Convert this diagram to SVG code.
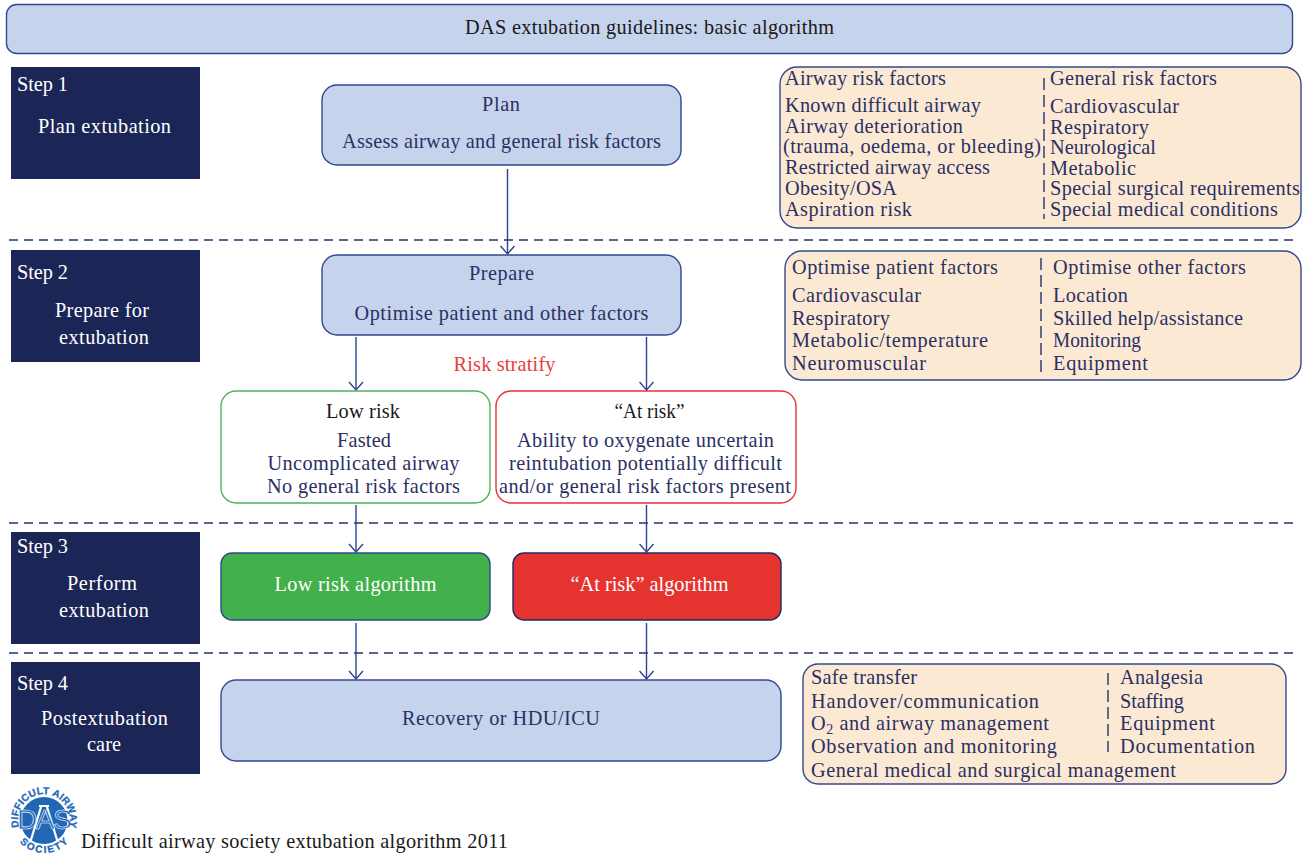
<svg xmlns="http://www.w3.org/2000/svg" width="1309" height="853" viewBox="0 0 1309 853">
<style>
text{font-family:"Liberation Serif","Times New Roman",serif;font-size:20.300px;fill:#2b3064}
.w{fill:#fff}.k{fill:#1a1a1a}.m{text-anchor:middle}
.step{fill:#1b2556}
.blue{fill:#c6d3ec;stroke:#33488f;stroke-width:1.4}
.tan{fill:#fbe9d3;stroke:#33488f;stroke-width:1.4}
.cn{fill:none;stroke:#2f4190;stroke-width:1.4}
.sep{fill:none;stroke:#24316f;stroke-width:1.4;stroke-dasharray:9 6}
.dv{fill:none;stroke:#24316f;stroke-width:1.4;stroke-dasharray:12 5}
.lg{font-family:"Liberation Sans",sans-serif;font-size:10px;font-weight:700;fill:#2267b5;stroke:#2267b5;stroke-width:.3}
</style>
<defs><marker id="a" markerUnits="userSpaceOnUse" markerWidth="12" markerHeight="16" refX="9" refY="8" orient="auto"><path d="M1 1L9 8L1 15" fill="none" stroke="#2f4190" stroke-width="1.4"/></marker></defs>
<rect width="1309" height="853" fill="#fff"/>
<g id="title"><rect class="blue" x="6.500" y="4.500" width="1286" height="49" rx="10"/><text class="k" x="465" y="34" textLength="369">DAS extubation guidelines: basic algorithm</text></g>
<g id="separators"><path class="sep" d="M9 240H1296M9 523H1296M9 653H1296"/></g>
<g id="connectors">
<path class="cn" marker-end="url(#a)" d="M507.500 169V254"/>
<path class="cn" marker-end="url(#a)" d="M356 337V390"/>
<path class="cn" marker-end="url(#a)" d="M646.500 337V390"/>
<path class="cn" marker-end="url(#a)" d="M356 505V552"/>
<path class="cn" marker-end="url(#a)" d="M646.500 505V552"/>
<path class="cn" marker-end="url(#a)" d="M356 623V679"/>
<path class="cn" marker-end="url(#a)" d="M646.500 623V679"/>
</g>
<g id="step1"><rect class="step" x="11" y="67" width="189" height="112"/><text class="w" x="17" y="91" textLength="51">Step 1</text><text class="w" x="38" y="133" textLength="133">Plan extubation</text></g>
<g id="step2"><rect class="step" x="11" y="250" width="189" height="112"/><text class="w" x="17" y="279" textLength="51">Step 2</text><text class="w m" x="102" y="317" textLength="94">Prepare for</text><text class="w m" x="104" y="344" textLength="90">extubation</text></g>
<g id="step3"><rect class="step" x="11" y="532" width="189" height="112"/><text class="w" x="17" y="553" textLength="51">Step 3</text><text class="w m" x="102" y="590" textLength="70">Perform</text><text class="w m" x="104" y="617" textLength="90">extubation</text></g>
<g id="step4"><rect class="step" x="11" y="662" width="189" height="112"/><text class="w" x="17" y="690" textLength="51">Step 4</text><text class="w m" x="104.500" y="725" textLength="127">Postextubation</text><text class="w m" x="104" y="751" textLength="34">care</text></g>
<g id="plan"><rect class="blue" x="322" y="85" width="359" height="80" rx="15"/><text class="m" x="501" y="111" textLength="38">Plan</text><text class="m" x="501.500" y="148" textLength="319">Assess airway and general risk factors</text></g>
<g id="prepare"><rect class="blue" x="322" y="255" width="359" height="80" rx="15"/><text class="m" x="501.500" y="280" textLength="65">Prepare</text><text class="m" x="501.500" y="320" textLength="294">Optimise patient and other factors</text></g>
<text id="risk-stratify" class="m" x="504.500" y="371" style="fill:#e5403f" textLength="102">Risk stratify</text>
<g id="low-risk"><rect x="221" y="391" width="269" height="112" rx="15" fill="#fff" stroke="#4fb455" stroke-width="1.400"/><text class="m k" x="363" y="418" textLength="74">Low risk</text><text class="m" x="364" y="447" textLength="54">Fasted</text><text class="m" x="363.500" y="470" textLength="192">Uncomplicated airway</text><text class="m" x="363.500" y="493" textLength="193">No general risk factors</text></g>
<g id="at-risk"><rect x="496" y="391" width="300" height="112" rx="15" fill="#fff" stroke="#e5333a" stroke-width="1.400"/><text class="m k" x="649.500" y="418" textLength="70" lengthAdjust="spacingAndGlyphs">“At risk”</text><text class="m" x="645.500" y="447" textLength="257">Ability to oxygenate uncertain</text><text class="m" x="645.500" y="470" textLength="273">reintubation potentially difficult</text><text class="m" x="645" y="493" textLength="292">and/or general risk factors present</text></g>
<g id="low-algo"><rect x="221" y="553" width="269" height="67" rx="11" fill="#43b14b" stroke="#2f4a8a" stroke-width="1.400"/><text class="m w" x="355.500" y="591" textLength="162">Low risk algorithm</text></g>
<g id="risk-algo"><rect x="513" y="553" width="268" height="67" rx="11" fill="#e53330" stroke="#1f2a66" stroke-width="1.400"/><text class="m w" x="649.500" y="591" textLength="158" lengthAdjust="spacingAndGlyphs">“At risk” algorithm</text></g>
<g id="recovery"><rect class="blue" x="221" y="680" width="560" height="81" rx="15"/><text class="m" x="501" y="725" textLength="198">Recovery or HDU/ICU</text></g>
<g id="airway-factors"><rect class="tan" x="780" y="67" width="521" height="161" rx="17"/>
<path class="dv" d="M1044 78V219"/>
<text x="785" y="85" textLength="161">Airway risk factors</text><text x="785" y="112" textLength="196">Known difficult airway</text><text x="785" y="133" textLength="178">Airway deterioration</text><text x="783" y="153" textLength="258">(trauma, oedema, or bleeding)</text><text x="785" y="174" textLength="205">Restricted airway access</text><text x="785" y="195" textLength="112">Obesity/OSA</text><text x="785" y="216" textLength="127">Aspiration risk</text>
<text x="1050" y="85" textLength="167">General risk factors</text><text x="1050" y="113" textLength="129">Cardiovascular</text><text x="1050" y="134" textLength="99">Respiratory</text><text x="1050" y="154" textLength="106">Neurological</text><text x="1050" y="175" textLength="86">Metabolic</text><text x="1050" y="195" textLength="250">Special surgical requirements</text><text x="1050" y="216" textLength="228">Special medical conditions</text></g>
<g id="optimise-factors"><rect class="tan" x="785" y="251" width="516" height="129" rx="17"/>
<path class="dv" d="M1041 258V373"/>
<text x="792" y="274" textLength="206">Optimise patient factors</text><text x="792" y="302" textLength="129">Cardiovascular</text><text x="792" y="325" textLength="98">Respiratory</text><text x="792" y="347" textLength="196">Metabolic/temperature</text><text x="792" y="370" textLength="134">Neuromuscular</text>
<text x="1053" y="274" textLength="193">Optimise other factors</text><text x="1053" y="302" textLength="75">Location</text><text x="1053" y="325" textLength="190">Skilled help/assistance</text><text x="1053" y="347" textLength="88" lengthAdjust="spacingAndGlyphs">Monitoring</text><text x="1053" y="370" textLength="95">Equipment</text></g>
<g id="post-factors"><rect class="tan" x="803" y="664" width="483" height="120" rx="15"/>
<path class="dv" d="M1108 673V752"/>
<text x="811" y="684" textLength="106">Safe transfer</text><text x="811" y="708" textLength="228">Handover/communication</text><text x="811" y="730" textLength="238">O<tspan font-size="14" dy="4">2</tspan><tspan dy="-4"> and airway management</tspan></text><text x="811" y="753" textLength="246">Observation and monitoring</text><text x="811" y="777" textLength="365">General medical and surgical management</text>
<text x="1120" y="684" textLength="83">Analgesia</text><text x="1120" y="708" textLength="64">Staffing</text><text x="1120" y="730" textLength="95">Equipment</text><text x="1120" y="753" textLength="135">Documentation</text></g>
<g id="logo">
<defs><path id="arcTop" d="M19 827.200A26 26 0 1 1 69 827.200"/><path id="arcBot" d="M17 839A33 33 0 0 0 71 839"/></defs>
<circle cx="44" cy="820.500" r="23.500" fill="#2267b5"/>
<path d="M39 806H49M41 807L30 843M47 807L58 843" fill="none" stroke="#fff" stroke-width="2.200"/>
<text x="44.500" y="829" class="m" style="font-family:'Liberation Sans',sans-serif;font-size:28px;fill:#2267b5;stroke:#fff;stroke-width:.6" textLength="55">DAS</text>
<text class="lg"><textPath href="#arcTop" textLength="96">DIFFICULT AIRWAY</textPath></text>
<text class="lg"><textPath href="#arcBot" startOffset="4" textLength="55">SOCIETY</textPath></text>
</g>
<text id="caption" class="k" x="81" y="848" textLength="427">Difficult airway society extubation algorithm 2011</text>
</svg>
